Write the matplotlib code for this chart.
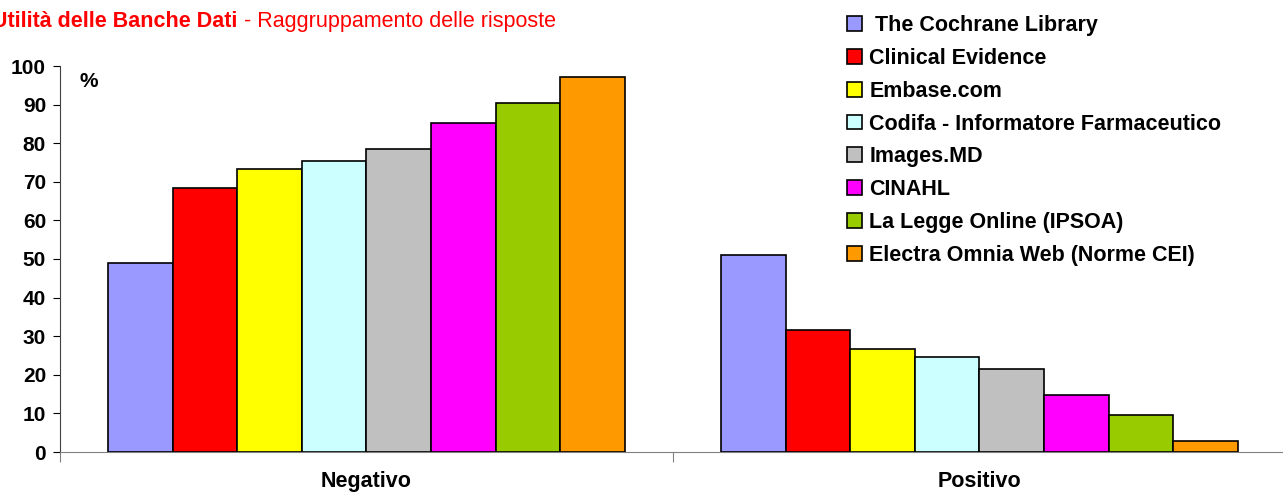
import matplotlib
matplotlib.use("Agg")
import matplotlib.pyplot as plt
import numpy as np

categories = ["Negativo", "Positivo"]
databases = [
    " The Cochrane Library",
    "Clinical Evidence",
    "Embase.com",
    "Codifa - Informatore Farmaceutico",
    "Images.MD",
    "CINAHL",
    "La Legge Online (IPSOA)",
    "Electra Omnia Web (Norme CEI)",
]
negativo = [49.0, 68.3, 73.3, 75.4, 78.5, 85.2, 90.4, 97.2]
positivo = [51.0, 31.7, 26.7, 24.6, 21.5, 14.8, 9.6, 2.8]
colors = ["#9999FF", "#FF0000", "#FFFF00", "#CCFFFF",
          "#C0C0C0", "#FF00FF", "#99CC00", "#FF9900"]
yticks = list(range(0, 101, 10))

plt.rcParams["font.family"] = ["Liberation Sans", "DejaVu Sans"]

fig = plt.figure(figsize=(12.83, 4.95), dpi=100)
ax = fig.add_axes([60 / 1283, 1 - 452 / 495, 1226 / 1283, 386 / 495])

x = np.arange(len(categories))
n = len(databases)
width = 0.843 / n
handles = []
for i, (name, col) in enumerate(zip(databases, colors)):
    vals = [negativo[i], positivo[i]]
    offs = (i - (n - 1) / 2) * width
    b = ax.bar(x + offs, vals, width, color=col, edgecolor="black",
               linewidth=1.2, label=name, zorder=3)
    handles.append(b)

# aesthetics
ax.set_xlim(-0.5, 1.5)
ax.set_ylim(0, 100)
ax.set_yticks(yticks)
ax.set_yticklabels([str(t) for t in yticks], fontsize=15, fontweight="bold")
ax.set_xticks([-0.5, 0.5, 1.5])
ax.set_xticklabels([])
ax.set_xticks(x, minor=True)
ax.set_xticklabels(categories, minor=True, fontsize=15.5, fontweight="bold")
ax.tick_params(axis="x", which="minor", length=0, pad=14)
ax.tick_params(axis="x", which="major", length=7, color="#808080")
ax.tick_params(axis="y", length=5, pad=5)
for s in ["top", "right"]:
    ax.spines[s].set_visible(False)
ax.spines["bottom"].set_color("#808080")
ax.spines["left"].set_color("#404040")
ax.text(0.0155, 0.985, "%", transform=ax.transAxes, fontsize=15,
        fontweight="bold", va="top")

t1 = fig.text(-0.006, 1 - 27 / 495, "Utilità delle Banche Dati", color="red",
              fontsize=15.5, fontweight="bold", va="baseline")
fig.add_artist(plt.Annotation(" - Raggruppamento delle risposte", xy=(1, 0),
                              xycoords=t1, va="bottom", ha="left",
                              color="red", fontsize=15.5))

fig.legend(handles=handles, loc="upper left",
           bbox_to_anchor=(832 / 1283, 1.0), frameon=False,
           prop={"size": 15.5, "weight": "bold"}, handlelength=0.68,
           handleheight=0.68, handletextpad=0.35, labelspacing=0.55,
           borderaxespad=0.3)

fig.savefig("out.png", dpi=100)
